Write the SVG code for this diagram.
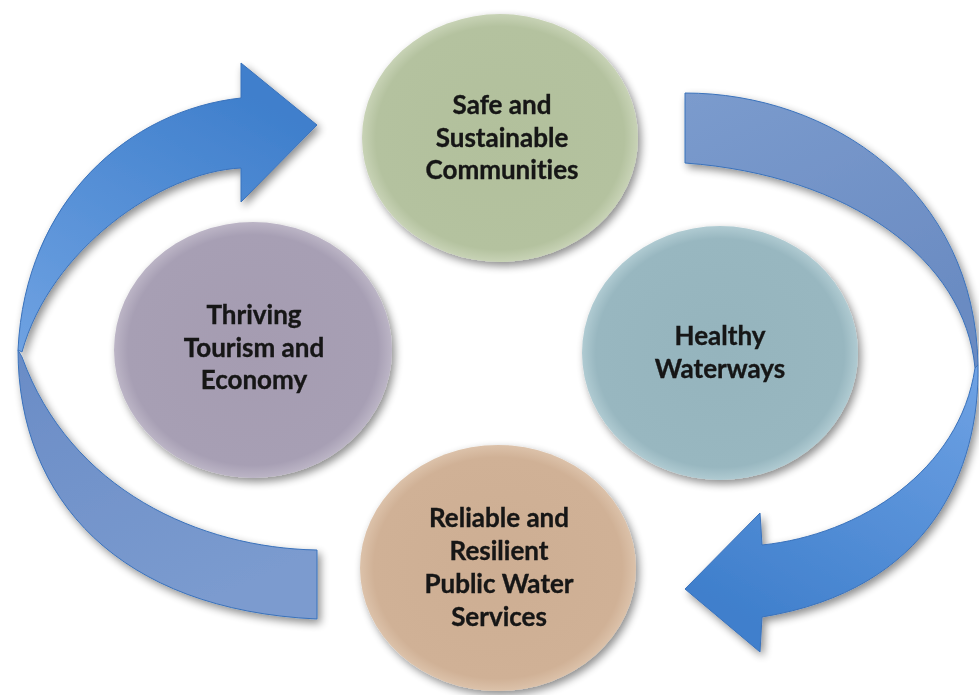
<svg xmlns="http://www.w3.org/2000/svg" width="979" height="695" viewBox="0 0 979 695">
  <defs>
    <filter id="shadow" x="-20%" y="-20%" width="140%" height="140%">
      <feGaussianBlur in="SourceAlpha" stdDeviation="4"/>
      <feOffset dx="3" dy="4" result="b"/>
      <feComponentTransfer><feFuncA type="linear" slope="0.45"/></feComponentTransfer>
      <feMerge><feMergeNode/><feMergeNode in="SourceGraphic"/></feMerge>
    </filter>
    <radialGradient id="gGreen" cx="50%" cy="50%" r="50%">
      <stop offset="0" stop-color="#b2c09c"/>
      <stop offset="0.9" stop-color="#b4c29f"/>
      <stop offset="1" stop-color="#c8d3b6"/>
    </radialGradient>
    <radialGradient id="gPurple" cx="50%" cy="50%" r="50%">
      <stop offset="0" stop-color="#a59cb1"/>
      <stop offset="0.9" stop-color="#a79fb4"/>
      <stop offset="1" stop-color="#bcb5c6"/>
    </radialGradient>
    <radialGradient id="gBlue" cx="50%" cy="50%" r="50%">
      <stop offset="0" stop-color="#95b4bd"/>
      <stop offset="0.9" stop-color="#98b7c0"/>
      <stop offset="1" stop-color="#b0cbd2"/>
    </radialGradient>
    <radialGradient id="gPeach" cx="50%" cy="50%" r="50%">
      <stop offset="0" stop-color="#cdae93"/>
      <stop offset="0.9" stop-color="#d0b196"/>
      <stop offset="1" stop-color="#dcc2aa"/>
    </radialGradient>
    <linearGradient id="gLeftFront" x1="0" y1="1" x2="0.6" y2="0">
      <stop offset="0" stop-color="#6fa2e2"/>
      <stop offset="1" stop-color="#3f7fcc"/>
    </linearGradient>
    <linearGradient id="gLeftBack" x1="0" y1="0" x2="0.5" y2="1">
      <stop offset="0" stop-color="#6a8cc6"/>
      <stop offset="1" stop-color="#7b9bcf"/>
    </linearGradient>
    <linearGradient id="gRightBack" x1="0" y1="0" x2="0.5" y2="1">
      <stop offset="0" stop-color="#7b9bcd"/>
      <stop offset="1" stop-color="#6a8bc2"/>
    </linearGradient>
    <linearGradient id="gRightFront" x1="1" y1="0" x2="0.4" y2="1">
      <stop offset="0" stop-color="#6fa2e4"/>
      <stop offset="1" stop-color="#3f7fcc"/>
    </linearGradient>
  </defs>
  <style>
    .arrow { stroke: #3a72bb; stroke-width: 1; stroke-linejoin: miter; }
    .label { font-family: "Lato", "Liberation Sans", sans-serif; font-weight: bold; font-size: 26px; fill: #141414; stroke: #141414; stroke-width: 0.35; text-anchor: middle; font-variant-ligatures: none; }
  </style>
  <rect width="979" height="695" fill="#ffffff"/>

  <g id="connectors" filter="url(#shadow)">
    <g id="arrow-left">
      <path class="arrow" fill="url(#gLeftBack)" d="M 18 350 C 18 500, 120 610, 317 619 L 317 550 C 200 548, 70 490, 22 357 Z"/>
      <path class="arrow" fill="url(#gLeftFront)" d="M 18 350 C 25 200, 130 110, 241 98 L 241 63 L 317 125 L 241 202 L 241 168 C 160 172, 50 250, 22 352 Z"/>
    </g>
    <g id="arrow-right">
      <path class="arrow" fill="url(#gRightBack)" d="M 685 93 C 830 93, 975 190, 978 365 L 975 368 C 965 260, 850 175, 685 163 Z"/>
      <path class="arrow" fill="url(#gRightFront)" d="M 978 365 C 980 470, 930 590, 762 617 L 760 652 L 685 589 L 760 513 L 762 545 C 860 535, 960 470, 975 368 Z"/>
    </g>
  </g>

  <g id="node-safe" filter="url(#shadow)">
    <ellipse cx="500" cy="138" rx="138" ry="124" fill="url(#gGreen)"/>
    <text class="label" x="502" y="114">Safe and</text>
    <text class="label" x="502" y="147">Sustainable</text>
    <text class="label" x="502" y="179">Communities</text>
  </g>

  <g id="node-thriving" filter="url(#shadow)">
    <ellipse cx="253" cy="350" rx="139" ry="128" fill="url(#gPurple)"/>
    <text class="label" x="254" y="324">Thriving</text>
    <text class="label" x="254" y="357">Tourism and</text>
    <text class="label" x="254" y="389">Economy</text>
  </g>

  <g id="node-healthy" filter="url(#shadow)">
    <ellipse cx="720" cy="353" rx="138" ry="127" fill="url(#gBlue)"/>
    <text class="label" x="720" y="345">Healthy</text>
    <text class="label" x="720" y="378">Waterways</text>
  </g>

  <g id="node-reliable" filter="url(#shadow)">
    <ellipse cx="498" cy="568" rx="138" ry="123" fill="url(#gPeach)"/>
    <text class="label" x="499" y="527">Reliable and</text>
    <text class="label" x="499" y="560">Resilient</text>
    <text class="label" x="499" y="593">Public Water</text>
    <text class="label" x="499" y="626">Services</text>
  </g>
</svg>
